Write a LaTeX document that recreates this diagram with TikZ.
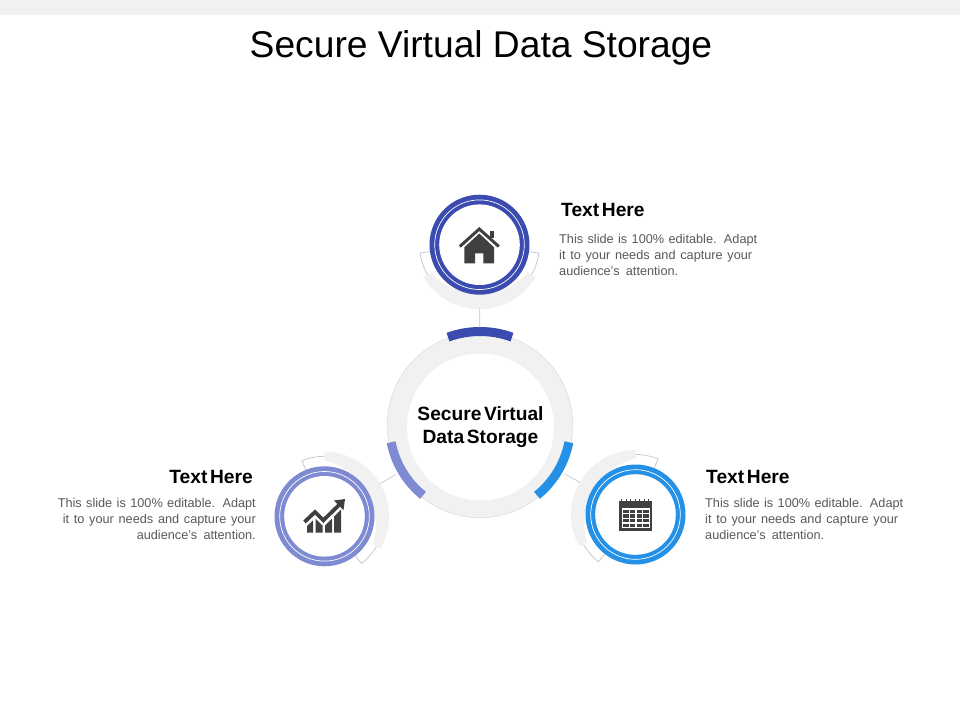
\documentclass[tikz,border=0pt]{standalone}
\usepackage{fontspec}
\setmainfont{Liberation Sans}
\newfontfamily\headfont[WordSpace=0.5]{Liberation Sans}
\definecolor{topblue}{HTML}{3B4BAF}
\definecolor{leftblue}{HTML}{7E8BD3}
\definecolor{rightblue}{HTML}{2491E6}
\definecolor{bandgray}{HTML}{F1F1F1}
\definecolor{linegray}{HTML}{C4C4C4}
\definecolor{icongray}{HTML}{404040}
\definecolor{bodygray}{HTML}{595959}
\newcommand{\blurb}{\makebox[198pt][s]{This slide is 100\% editable. Adapt}\\
  \makebox[193pt][s]{it to your needs and capture your}\\
  \makebox[119pt][s]{audience's attention.}}
\tikzset{
  head/.style={font=\headfont\bfseries\fontsize{19.2}{23}\selectfont,inner sep=0pt},
  body/.style={font=\fontsize{12.7}{16}\selectfont,text=bodygray,inner sep=0pt},
  link/.style={draw=linegray,line width=0.6pt},
  sat/.style={circle,minimum size=100pt,inner sep=0pt,outer sep=14pt},
  hubarc/.style={line width=9pt},
  icon/.style={fill=icongray,draw=none}
}
\begin{document}
\begin{tikzpicture}[x=1pt,y=1pt]
            \useasboundingbox (0,-720) rectangle (960,0);
            \fill[white] (0,-720) rectangle (960,0);
            \fill[bandgray] (0,-15) rectangle (960,0);
            \node[font=\fontsize{37.2}{44}\selectfont,inner sep=0pt] (title) at (481,-47.5) {Secure Virtual Data Storage};

            \node[circle,minimum size=185.5pt,inner sep=0pt,outer sep=5pt,fill=bandgray,draw=linegray!70,line width=0.4pt] (hub) at (480,-425) {};
            \node[circle,minimum size=147pt,inner sep=0pt,fill=white,align=center,head] (hubtext) at (480.5,-427) {Secure Virtual\\Data Storage};
            \draw[hubarc,topblue] (70:93.5pt)+(480,-425) arc[start angle=70,end angle=110,radius=93.5pt];
            \draw[hubarc,rightblue] (-51:90.5pt)+(480,-425) arc[start angle=-51,end angle=-11,radius=90.5pt];
            \draw[hubarc,leftblue] (191:90.5pt)+(480,-425) arc[start angle=191,end angle=231,radius=90.5pt];

            \foreach \nm/\cx/\cy/\dir/\col in {top/479.5/244.7/270/topblue,left/324.5/516.3/30/leftblue,right/635.5/514.5/150/rightblue} {
                \begin{scope}[shift={(\cx,-\cy)},rotate=\dir]
                    \draw[linegray,line width=0.7pt] (58:60pt) arc[start angle=58,end angle=82,radius=60pt] -- (82:50pt);
                    \draw[linegray,line width=0.7pt] (-58:60pt) arc[start angle=-58,end angle=-82,radius=60pt] -- (-82:50pt);
                    \fill[bandgray] (-60:64.5pt) arc[start angle=-60,end angle=60,radius=64.5pt] -- (60:56pt) to[bend left=47] (-60:56pt) -- cycle;
                \end{scope}
                \node[sat,fill=\col] (\nm) at (\cx,-\cy) {};
                \draw[white,line width=0.7pt] (\cx,-\cy) circle (44.8pt);
                \fill[white] (\cx,-\cy) circle (40.3pt);
            }
            \draw[link] (top) -- (hub);
            \draw[link] (left) -- (hub);
            \draw[link] (right) -- (hub);

            \draw[icongray,line width=3pt,miter limit=10] (459.8,-246.5) -- (479.3,-229) -- (498.8,-246.5);
            \fill[icon] (464.3,-263.3) -- (464.3,-247.3) -- (479.3,-233.5) -- (494,-247.3) -- (494,-263.3) -- (483.3,-263.3) -- (483.3,-253.3) -- (475,-253.3) -- (475,-263.3) -- cycle;
            \fill[icon] (490,-231) rectangle (494.3,-238);

            \draw[icongray,line width=3.8pt] (304.5,-522) -- (315,-512) -- (323.3,-520.3) -- (339,-505);
            \fill[icon] (334,-500.5) -- (345,-499) -- (343.5,-510) -- cycle;
            \fill[icon] (307,-532.7) -- (307,-526) -- (313,-520.5) -- (313,-532.7) -- cycle;
            \fill[icon] (315.5,-532.7) -- (315.5,-518.5) -- (322.5,-525.5) -- (322.5,-532.7) -- cycle;
            \fill[icon] (325,-532.7) -- (325,-525.5) -- (332,-518.5) -- (332,-532.7) -- cycle;
            \fill[icon] (334,-532.7) -- (334,-516.5) -- (341,-509.5) -- (341,-532.7) -- cycle;

            \fill[icon] (619,-531) rectangle (652,-501);
            \foreach \tx in {621,625.5,630,634.5,639,643.5,648} {
                \fill[icon] (\tx,-503) rectangle (\tx+1.4,-498.5);
            }
            \foreach \gx in {622.5,629.2,635.9,642.6,649.3} {
                \draw[white,line width=1.3pt] (\gx,-508.5) -- (\gx,-528);
            }
            \foreach \gy in {509,513.7,518.4,523,527.7} {
                \draw[white,line width=1.3pt] (622,-\gy) -- (650,-\gy);
            }

            \node[head,anchor=west] (toph) at (561,-210) {Text Here};
            \node[body,anchor=north west,align=left] (topb) at (559,-234) {\blurb};
            \node[head,anchor=east] (lefth) at (253,-477) {Text Here};
            \node[body,anchor=north east,align=right] (leftb) at (256,-498) {\blurb};
            \node[head,anchor=west] (righth) at (706,-477) {Text Here};
            \node[body,anchor=north west,align=left] (rightb) at (705,-498) {\blurb};
        \end{tikzpicture}
\end{document}
